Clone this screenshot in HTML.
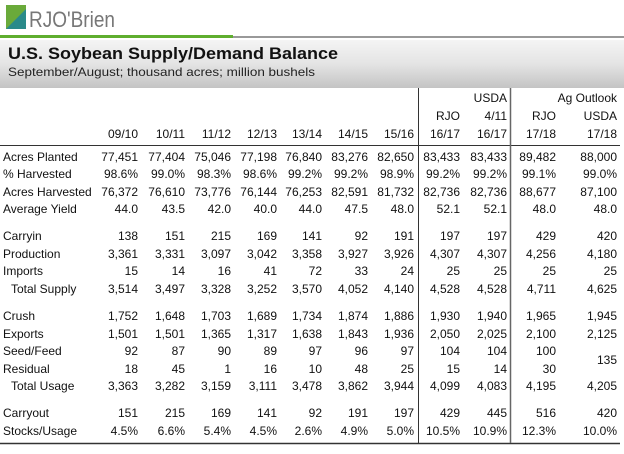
<!DOCTYPE html>
<html><head><meta charset="utf-8"><style>
html,body{margin:0;padding:0;background:#fff;}
svg text{font-family:"Liberation Sans",sans-serif;font-size:12px;fill:#111;}
</style></head><body>
<svg width="624" height="449" viewBox="0 0 624 449" xmlns="http://www.w3.org/2000/svg">
<defs>
<linearGradient id="g" x1="0" y1="0" x2="0" y2="1">
<stop offset="0" stop-color="#f4f4f4"/><stop offset="0.5" stop-color="#e4e4e4"/><stop offset="1" stop-color="#c4c4c4"/>
</linearGradient>
</defs>
<rect x="6" y="5" width="20" height="24" fill="#6aaa3a"/>
<polygon points="6,29 26,9 26,29" fill="#2a8a8a"/>
<text x="29" y="27" textLength="86" lengthAdjust="spacingAndGlyphs" style="font-size:22px;fill:#777">RJO'Brien</text>
<rect x="0" y="35" width="233" height="3" fill="#5fae2e"/>
<rect x="233" y="36" width="391" height="2" fill="#999"/>
<rect x="0" y="40" width="624" height="48" fill="url(#g)"/>
<text x="8" y="59" textLength="330" lengthAdjust="spacingAndGlyphs" style="font-size:17px;font-weight:bold;fill:#111">U.S. Soybean Supply/Demand Balance</text>
<text x="8" y="76" textLength="307" lengthAdjust="spacingAndGlyphs" style="font-size:12px;fill:#222">September/August;  thousand acres; million bushels</text>
<line x1="0" y1="145.5" x2="620" y2="145.5" stroke="#333" stroke-width="1"/>
<line x1="0" y1="443.5" x2="620" y2="443.5" stroke="#333" stroke-width="1.5"/>
<line x1="418.5" y1="88" x2="418.5" y2="443" stroke="#333"/>
<line x1="510.5" y1="88" x2="510.5" y2="443" stroke="#666" stroke-width="1.5"/>
<g text-anchor="end">
<text x="507" y="102">USDA</text>
<text x="617" y="102">Ag Outlook</text>
<text x="460" y="120">RJO</text><text x="507" y="120">4/11</text>
<text x="556" y="120">RJO</text><text x="617" y="120">USDA</text>
<text x="138" y="138">09/10</text><text x="185" y="138">10/11</text><text x="231" y="138">11/12</text><text x="277" y="138">12/13</text><text x="322" y="138">13/14</text><text x="368" y="138">14/15</text><text x="414" y="138">15/16</text><text x="460" y="138">16/17</text><text x="507" y="138">16/17</text><text x="556" y="138">17/18</text><text x="617" y="138">17/18</text>
</g>
<g>
<text x="3" y="161">Acres Planted</text>
<text x="3" y="178">% Harvested</text>
<text x="3" y="196">Acres Harvested</text>
<text x="3" y="213">Average Yield</text>
<text x="3" y="240">Carryin</text>
<text x="3" y="258">Production</text>
<text x="3" y="275">Imports</text>
<text x="11" y="293">Total Supply</text>
<text x="3" y="320">Crush</text>
<text x="3" y="338">Exports</text>
<text x="3" y="355">Seed/Feed</text>
<text x="3" y="373">Residual</text>
<text x="11" y="390">Total Usage</text>
<text x="3" y="417">Carryout</text>
<text x="3" y="435">Stocks/Usage</text>
</g>
<g text-anchor="end">
<g transform="translate(0,161)"><text x="138">77,451</text><text x="185">77,404</text><text x="231">75,046</text><text x="277">77,198</text><text x="322">76,840</text><text x="368">83,276</text><text x="414">82,650</text><text x="460">83,433</text><text x="507">83,433</text><text x="556">89,482</text><text x="617">88,000</text></g>
<g transform="translate(0,178)"><text x="138">98.6%</text><text x="185">99.0%</text><text x="231">98.3%</text><text x="277">98.6%</text><text x="322">99.2%</text><text x="368">99.2%</text><text x="414">98.9%</text><text x="460">99.2%</text><text x="507">99.2%</text><text x="556">99.1%</text><text x="617">99.0%</text></g>
<g transform="translate(0,196)"><text x="138">76,372</text><text x="185">76,610</text><text x="231">73,776</text><text x="277">76,144</text><text x="322">76,253</text><text x="368">82,591</text><text x="414">81,732</text><text x="460">82,736</text><text x="507">82,736</text><text x="556">88,677</text><text x="617">87,100</text></g>
<g transform="translate(0,213)"><text x="138">44.0</text><text x="185">43.5</text><text x="231">42.0</text><text x="277">40.0</text><text x="322">44.0</text><text x="368">47.5</text><text x="414">48.0</text><text x="460">52.1</text><text x="507">52.1</text><text x="556">48.0</text><text x="617">48.0</text></g>
<g transform="translate(0,240)"><text x="138">138</text><text x="185">151</text><text x="231">215</text><text x="277">169</text><text x="322">141</text><text x="368">92</text><text x="414">191</text><text x="460">197</text><text x="507">197</text><text x="556">429</text><text x="617">420</text></g>
<g transform="translate(0,258)"><text x="138">3,361</text><text x="185">3,331</text><text x="231">3,097</text><text x="277">3,042</text><text x="322">3,358</text><text x="368">3,927</text><text x="414">3,926</text><text x="460">4,307</text><text x="507">4,307</text><text x="556">4,256</text><text x="617">4,180</text></g>
<g transform="translate(0,275)"><text x="138">15</text><text x="185">14</text><text x="231">16</text><text x="277">41</text><text x="322">72</text><text x="368">33</text><text x="414">24</text><text x="460">25</text><text x="507">25</text><text x="556">25</text><text x="617">25</text></g>
<g transform="translate(0,293)"><text x="138">3,514</text><text x="185">3,497</text><text x="231">3,328</text><text x="277">3,252</text><text x="322">3,570</text><text x="368">4,052</text><text x="414">4,140</text><text x="460">4,528</text><text x="507">4,528</text><text x="556">4,711</text><text x="617">4,625</text></g>
<g transform="translate(0,320)"><text x="138">1,752</text><text x="185">1,648</text><text x="231">1,703</text><text x="277">1,689</text><text x="322">1,734</text><text x="368">1,874</text><text x="414">1,886</text><text x="460">1,930</text><text x="507">1,940</text><text x="556">1,965</text><text x="617">1,945</text></g>
<g transform="translate(0,338)"><text x="138">1,501</text><text x="185">1,501</text><text x="231">1,365</text><text x="277">1,317</text><text x="322">1,638</text><text x="368">1,843</text><text x="414">1,936</text><text x="460">2,050</text><text x="507">2,025</text><text x="556">2,100</text><text x="617">2,125</text></g>
<g transform="translate(0,355)"><text x="138">92</text><text x="185">87</text><text x="231">90</text><text x="277">89</text><text x="322">97</text><text x="368">96</text><text x="414">97</text><text x="460">104</text><text x="507">104</text><text x="556">100</text></g>
<text x="617" y="364">135</text>
<g transform="translate(0,373)"><text x="138">18</text><text x="185">45</text><text x="231">1</text><text x="277">16</text><text x="322">10</text><text x="368">48</text><text x="414">25</text><text x="460">15</text><text x="507">14</text><text x="556">30</text></g>
<g transform="translate(0,390)"><text x="138">3,363</text><text x="185">3,282</text><text x="231">3,159</text><text x="277">3,111</text><text x="322">3,478</text><text x="368">3,862</text><text x="414">3,944</text><text x="460">4,099</text><text x="507">4,083</text><text x="556">4,195</text><text x="617">4,205</text></g>
<g transform="translate(0,417)"><text x="138">151</text><text x="185">215</text><text x="231">169</text><text x="277">141</text><text x="322">92</text><text x="368">191</text><text x="414">197</text><text x="460">429</text><text x="507">445</text><text x="556">516</text><text x="617">420</text></g>
<g transform="translate(0,435)"><text x="138">4.5%</text><text x="185">6.6%</text><text x="231">5.4%</text><text x="277">4.5%</text><text x="322">2.6%</text><text x="368">4.9%</text><text x="414">5.0%</text><text x="460">10.5%</text><text x="507">10.9%</text><text x="556">12.3%</text><text x="617">10.0%</text></g>
</g>
</svg>
</body></html>
